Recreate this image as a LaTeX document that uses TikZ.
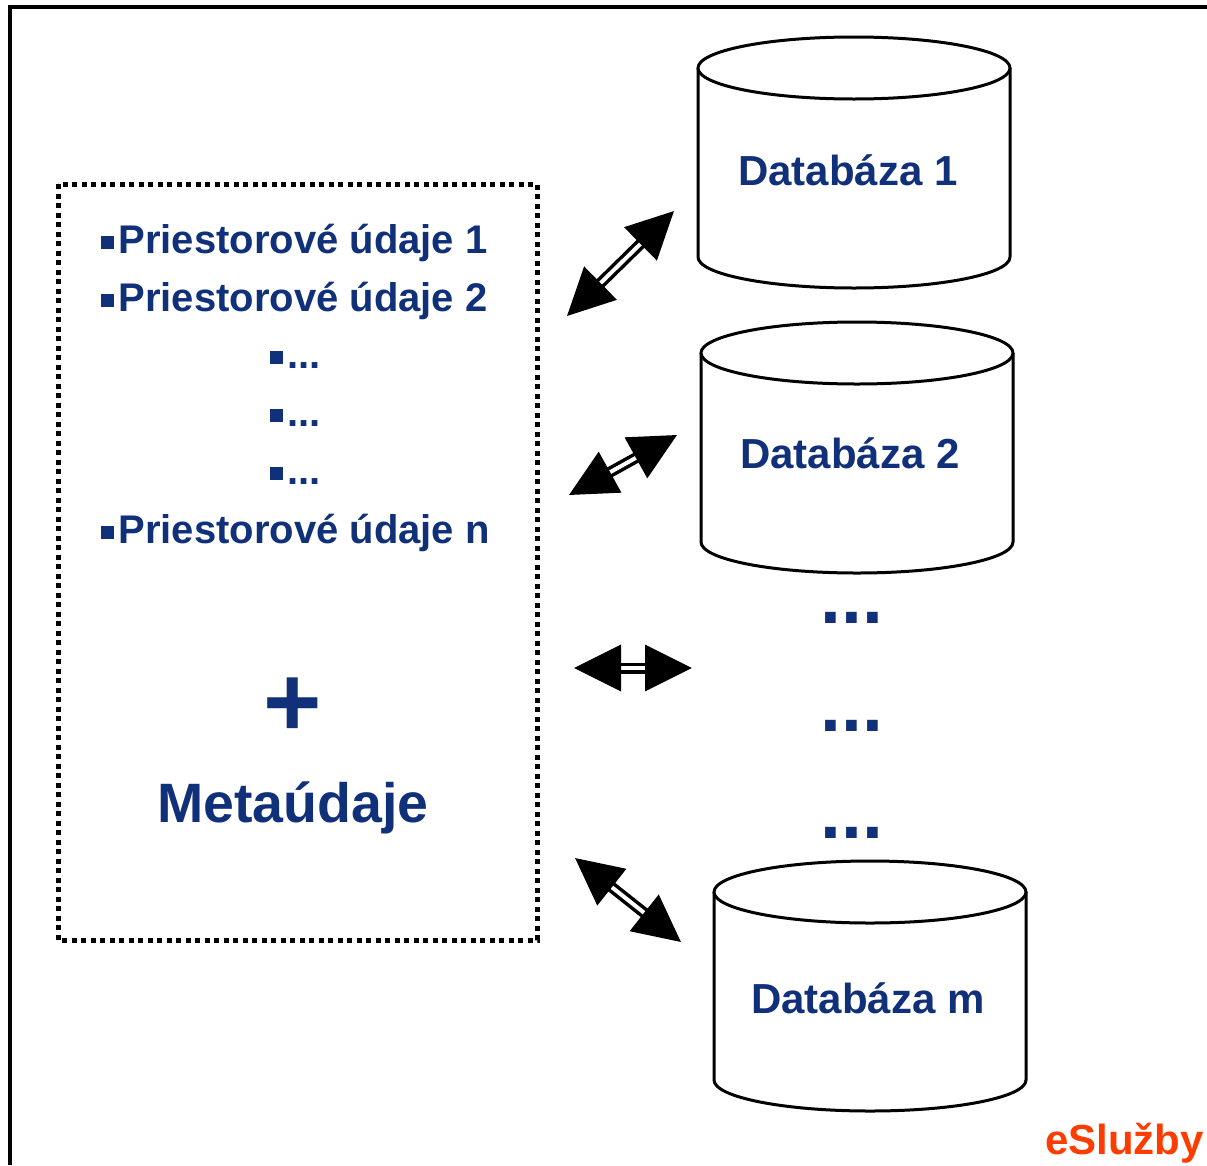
\documentclass[tikz,border=0pt]{standalone}
\usepackage{fontspec}
\setmainfont{Liberation Sans}
\usetikzlibrary{arrows.meta}
\usetikzlibrary{positioning}
\definecolor{db_blue}{RGB}{17,48,122}
\definecolor{brand_orange}{RGB}{255,60,0}
\newcommand{\sqbullet}{\rule[0.1em]{0.33em}{0.33em}\hspace{0.1em}}
\tikzstyle{db_line} = [
    line width=3pt, 
    draw=black, 
    fill=white
]
\tikzstyle{db_text} = [
    text=db_blue, 
    font=\fontsize{42}{50}\selectfont\bfseries, 
    inner sep=0pt
]
\tikzstyle{list_item} = [
    text=db_blue, 
    font=\fontsize{40}{48}\selectfont\bfseries, 
    anchor=base west, 
    inner sep=0pt
]
\tikzstyle{big_dots} = [
    text=db_blue, 
    font=\fontsize{75}{90}\selectfont\bfseries, 
    anchor=base, 
    inner sep=0pt
]
\tikzstyle{double_arrow} = [
    line width=3.5pt, 
    double=white, 
    double distance=4pt, % two thin lines as the shaft
    {Triangle[length=47pt,width=46pt]}-{Triangle[length=47pt,width=46pt]}
]
\newcommand{\dbcylinder}[3]{
    \draw[db_line] ({#1-156},#2) -- ({#1-156},#3)
        arc[start angle=180, end angle=360, x radius=156pt, y radius=31pt]
        -- ({#1+156},#2);
    \draw[db_line] (#1,#2) ellipse[x radius=156pt, y radius=31pt];
}

\begin{document}
\begin{tikzpicture}[x=1pt, y=-1pt]
\useasboundingbox (0,0) rectangle (1207,1165);

% frame
\draw[line width=4pt] (10,1165) -- (10,7) -- (1207,7);

% left box
\draw[line width=5pt, dash pattern=on 5pt off 4.5pt] (58,184) rectangle (537,940);
\node[list_item] (item1) at (101,253) {\sqbullet Priestorové údaje 1};
\node[list_item] (item2) at (101,311) {\sqbullet Priestorové údaje 2};
\node[list_item] (dots1) at (270,368) {\sqbullet ...};
\node[list_item] (dots2) at (270,426) {\sqbullet ...};
\node[list_item] (dots3) at (270,484) {\sqbullet ...};
\node[list_item] (itemn) at (101,543) {\sqbullet Priestorové údaje n};
\node[text=db_blue, font=\fontsize{100}{120}\selectfont\bfseries, inner sep=0pt] (plus) at (293,707) {+};
\node[text=db_blue, font=\fontsize{55.5}{66}\selectfont\bfseries, anchor=base, inner sep=0pt] (meta) at (293,822) {Metaúdaje};

% databases
\dbcylinder{854}{68}{257}
\dbcylinder{857}{353}{542}
\dbcylinder{870}{892}{1080}
\node[db_text] (db1) at (848,170) {Databáza 1};
\node[db_text] (db2) at (850,453) {Databáza 2};
\node[db_text] (dbm) at (868,998) {Databáza m};
\node[big_dots] (more1) at (852,623) {...};
\node[big_dots] (more2) at (852,731) {...};
\node[big_dots] (more3) at (852,838) {...};

% arrows
\coordinate (a1s) at (567,316);
\coordinate (a1e) at (674,211);
\coordinate (a2s) at (569,495);
\coordinate (a2e) at (677,435);
\coordinate (a3s) at (574,668);
\coordinate (a3e) at (692,668);
\coordinate (a4s) at (575,858);
\coordinate (a4e) at (681,942);
\draw[double_arrow] (a1s) -- (a1e);
\draw[double_arrow] (a2s) -- (a2e);
\draw[double_arrow] (a3s) -- (a3e);
\draw[double_arrow] (a4s) -- (a4e);

\node[text=brand_orange, font=\fontsize{42}{50}\selectfont\bfseries, anchor=base west, inner sep=0pt] (brand) at (1045,1154) {eSlužby};
\end{tikzpicture}
\end{document}
